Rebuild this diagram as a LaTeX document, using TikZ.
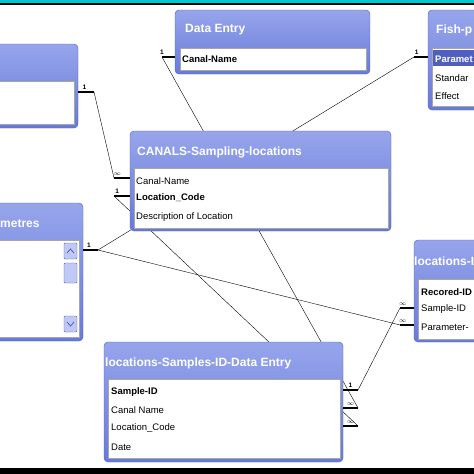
\documentclass[tikz,border=0pt]{standalone}
\usepackage{fontspec}
\setmainfont{Liberation Sans}
\definecolor{accblue}{RGB}{104,122,216}
\definecolor{acclight}{RGB}{150,165,235}
\definecolor{accdark}{RGB}{80,95,190}
\definecolor{barcyan}{RGB}{0,200,210}
\begin{document}
\begin{tikzpicture}
    [x=1pt, y=-1pt,
     frame/.style={draw=accdark, top color=acclight, bottom color=accblue, rounded corners=4pt},
     body/.style={draw=gray!70, fill=white, line width=1pt},
     ttl/.style={anchor=west, text=white, font=\fontsize{12}{13}\selectfont\bfseries, inner sep=0pt},
     row/.style={anchor=west, font=\fontsize{9.5}{11}\selectfont, inner sep=0pt},
     key/.style={row, font=\fontsize{9.5}{11}\selectfont\bfseries},
     stub/.style={line width=2.2pt},
     link/.style={thin},
     card/.style={font=\fontsize{6.5}{7}\selectfont\bfseries, inner sep=1pt},
     sbtn/.style={draw=accdark, fill=acclight!60, rounded corners=1pt}]

    \useasboundingbox (0,0) rectangle (474,474);
    \fill[white] (0,0) rectangle (474,474);

    % stub ends
    \coordinate (lt1) at (94,92);
    \coordinate (cn8) at (114,178);
    \coordinate (cl1) at (114,196);
    \coordinate (de1) at (162,57);
    \coordinate (fp1) at (414,57);
    \coordinate (pa1) at (98,250);
    \coordinate (lr8a) at (400,308);
    \coordinate (lr8b) at (400,325);
    \coordinate (ls1) at (358,390);
    \coordinate (ls8a) at (358,408);
    \coordinate (ls8b) at (358,426);

    % connectors (drawn under the tables)
    \draw[link] (lt1) -- (cn8);
    \draw[link] (cl1) -- (ls8b);
    \draw[link] (de1) -- (ls8a);
    \draw[link] (fp1) -- (pa1);
    \draw[link] (pa1) -- (lr8b);
    \draw[link] (ls1) -- (lr8a);

    % left top table
    \draw[frame] (-10,44) rectangle (78,128);
    \draw[body] (-10,81) rectangle (74,124);

    % Data Entry
    \draw[frame] (175,10) rectangle (370,74);
    \draw[body] (180,48) rectangle (366,70);
    \node[ttl] (deT) at (185,30) {Data Entry};
    \node[key] (deR1) at (182,59) {Canal-Name};

    % Fish-parameters
    \draw[frame] (428,10) rectangle (484,110);
    \draw[body] (432,48) rectangle (484,106);
    \node[ttl] (fpT) at (436,30) {Fish-p};
    \fill[accdark] (433,50) rectangle (474,66);
    \node[key, text=white] (fpR1) at (435,59) {Paramet};
    \node[row] (fpR2) at (435,78) {Standar};
    \node[row] (fpR3) at (435,96) {Effect};

    % CANALS-Sampling-locations
    \draw[frame] (130,131) rectangle (391,231);
    \draw[body] (134,168) rectangle (388,228);
    \node[ttl] (clT) at (137,152) {CANALS-Sampling-locations};
    \node[row] (clR1) at (136,181) {Canal-Name};
    \node[key] (clR2) at (136,198) {Location\_Code};
    \node[row] (clR3) at (136,217) {Description of Location};

    % Parametres
    \draw[frame] (-10,203) rectangle (83,341);
    \draw[body] (-10,240) rectangle (79,337);
    \node[ttl] (paT) at (0,224) {metres};
    \draw[sbtn] (64,243) rectangle (77,259);
    \draw[sbtn] (64,263) rectangle (77,283);
    \draw[sbtn] (64,316) rectangle (77,332);
    \draw[accdark, thick] (67,253) -- (70.5,249) -- (74,253);
    \draw[accdark, thick] (67,322) -- (70.5,326) -- (74,322);

    % locations-Parameters
    \draw[frame] (414,240) rectangle (484,342);
    \draw[body] (418,279) rectangle (484,339);
    \node[ttl] (lrT) at (414,261) {locations-I};
    \node[key] (lrR1) at (421,292) {Recored-ID};
    \node[row] (lrR2) at (421,309) {Sample-ID};
    \node[row] (lrR3) at (421,327) {Parameter-};

    % locations-Samples-ID-Data Entry
    \draw[frame] (104,342) rectangle (343,462);
    \draw[body] (108,379) rectangle (340,458);
    \node[ttl] (lsT) at (105,363) {locations-Samples-ID-Data Entry};
    \node[key] (lsR1) at (111,392) {Sample-ID};
    \node[row] (lsR2) at (111,410) {Canal Name};
    \node[row] (lsR3) at (111,428) {Location\_Code};
    \node[row] (lsR4) at (111,447) {Date};

    % relation stubs and cardinalities
    \draw[stub] (78,92) -- (lt1) node[card, above, pos=0.4] {1};
    \draw[stub] (cn8) -- (130,178) node[card, above, pos=0.2] {$\infty$};
    \draw[stub] (cl1) -- (130,196) node[card, above, pos=0.2] {1};
    \draw[stub] (de1) -- (175,57) node[card, above, pos=0] {1};
    \draw[stub] (fp1) -- (428,57) node[card, above, pos=0.2] {1};
    \draw[stub] (83,250) -- (pa1) node[card, above, pos=0.4] {1};
    \draw[stub] (lr8a) -- (414,308) node[card, above, pos=0.2] {$\infty$};
    \draw[stub] (lr8b) -- (414,325) node[card, above, pos=0.2] {$\infty$};
    \draw[stub] (343,390) -- (ls1) node[card, above, pos=0.5] {1};
    \draw[stub] (343,408) -- (ls8a) node[card, above, pos=0.5] {$\infty$};
    \draw[stub] (343,426) -- (ls8b) node[card, above, pos=0.5] {$\infty$};

    % screen borders
    \fill[barcyan] (0,0) rectangle (474,3);
    \fill[black] (0,3) rectangle (474,5);
    \fill[black] (0,468) rectangle (474,474);
\end{tikzpicture}
\end{document}
